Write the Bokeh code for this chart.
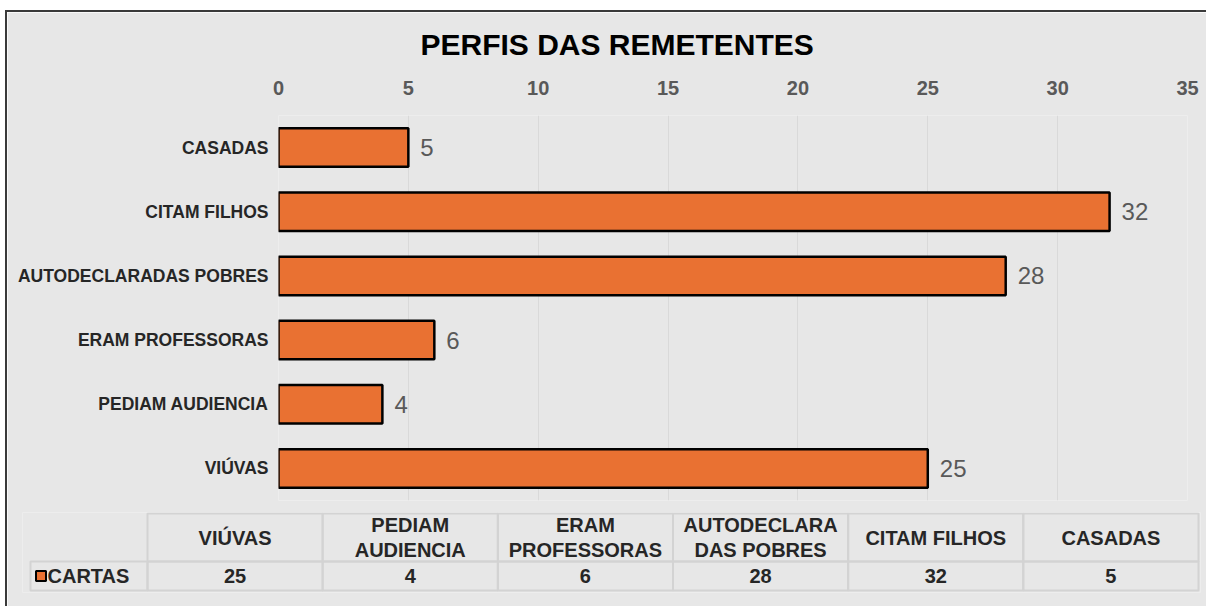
from bokeh.plotting import figure
from bokeh.models import Range1d, FactorRange, FixedTicker, ColumnDataSource
from bokeh.layouts import column
from bokeh.core.properties import value
from bokeh.embed import file_html
from bokeh.resources import INLINE

# ---- data ----
categories = ["VIÚVAS", "PEDIAM AUDIENCIA", "ERAM PROFESSORAS",
              "AUTODECLARADAS POBRES", "CITAM FILHOS", "CASADAS"]
cartas = [25, 4, 6, 28, 32, 5]
table_headers = ["VIÚVAS", "PEDIAM\nAUDIENCIA", "ERAM\nPROFESSORAS",
                 "AUTODECLARA\nDAS POBRES", "CITAM FILHOS", "CASADAS"]
x_ticks = [0, 5, 10, 15, 20, 25, 30, 35]
series_name = "CARTAS"
title_text = "PERFIS DAS REMETENTES"

# ---- style ----
FONT = "Liberation Sans"
BG = "#e7e7e7"
ORANGE = "#e97132"
DARK = "#262626"
GRAY_TXT = "#595959"
GRID = "#d9d9d9"
TABLE_LINE = "#d3d3d3"
FRAME = "2px solid #3a3a3a"
W = 1201

# ---- chart ----
src = ColumnDataSource(dict(cat=categories, val=cartas,
                            lbl=[str(v) for v in cartas]))

p1 = figure(width=W, height=497,
            y_range=FactorRange(*categories), x_range=Range1d(0, 35),
            x_axis_location="above",
            output_backend="svg", toolbar_location=None,
            min_border_left=271, min_border_right=W - 1180,
            min_border_top=103, min_border_bottom=9,
            background_fill_color=BG, border_fill_color=BG,
            outline_line_color=None)
p1.frame_align = False
p1.styles = {"border-top": FRAME, "border-left": FRAME,
             "margin-left": "5px", "margin-top": "10px"}

p1.title.text = title_text
p1.title.align = "left"
p1.title.offset = 142
p1.title.standoff = 13
p1.title.text_font = FONT
p1.title.text_font_size = "30px"
p1.title.text_font_style = "bold"
p1.title.text_color = "#000000"

p1.hbar(y="cat", left=0, right="val", height=0.6, source=src,
        fill_color=ORANGE, line_color="black", line_width=2.5)
p1.text(x="val", y="cat", text="lbl", source=src, x_offset=12,
        text_baseline="middle", text_align="left",
        text_font=value(FONT), text_font_size="24px", text_color=GRAY_TXT)

ticker = FixedTicker(ticks=x_ticks)
p1.xaxis.ticker = ticker
p1.xgrid.ticker = ticker
p1.xgrid.grid_line_color = GRID
p1.ygrid.grid_line_color = None
p1.xaxis.axis_line_color = None
p1.xaxis.major_tick_line_color = None
p1.xaxis.minor_tick_line_color = None
p1.xaxis.major_label_standoff = 15
p1.xaxis.major_label_text_font = FONT
p1.xaxis.major_label_text_font_size = "20px"
p1.xaxis.major_label_text_font_style = "bold"
p1.xaxis.major_label_text_color = GRAY_TXT
# blank spacer label to lift the title a little
p1.xaxis.axis_label = " "
p1.xaxis.axis_label_text_font_size = "7px"
p1.xaxis.axis_label_standoff = 0

p1.yaxis.axis_line_color = None
p1.yaxis.major_tick_line_color = None
p1.yaxis.minor_tick_line_color = None
p1.yaxis.major_label_standoff = 4
p1.yaxis.major_label_text_font = FONT
p1.yaxis.major_label_text_font_size = "17.5px"
p1.yaxis.major_label_text_font_style = "bold"
p1.yaxis.major_label_text_color = DARK

# ---- data table ----
COL_PX = 175.17
LEG_W = 125 / COL_PX      # width of the legend column in column units
LEG_CELL = 117 / COL_PX   # bordered legend cell
VAL_H = 29                # value row height (px units)
HEAD_H = 48               # header row height (px units)

p2 = figure(width=W, height=100,
            x_range=Range1d(-LEG_W, len(categories) + 2 / COL_PX),
            y_range=Range1d(-2, VAL_H + HEAD_H + 1),
            x_axis_location=None, y_axis_location=None,
            output_backend="svg", toolbar_location=None,
            min_border_left=15, min_border_right=W - 1193,
            min_border_top=6, min_border_bottom=14,
            background_fill_color=BG, border_fill_color=BG,
            outline_line_color=None)
p2.frame_align = False
p2.styles = {"border-left": FRAME, "margin-left": "5px", "margin-top": "-1px"}
p2.grid.visible = False

idx = list(range(len(categories)))
tsrc = ColumnDataSource(dict(
    xc=[i + 0.5 for i in idx],
    head=table_headers,
    val=[str(v) for v in cartas],
))

# header cells
p2.rect(x="xc", y=VAL_H + HEAD_H / 2, width=1, height=HEAD_H, source=tsrc,
        fill_color=None, line_color=TABLE_LINE, line_width=2)
# value cells
p2.rect(x="xc", y=VAL_H / 2, width=1, height=VAL_H, source=tsrc,
        fill_color=None, line_color=TABLE_LINE, line_width=2)
# legend cell
p2.rect(x=[-LEG_CELL / 2], y=[VAL_H / 2], width=LEG_CELL, height=VAL_H,
        fill_color=None, line_color=TABLE_LINE, line_width=2)

p2.text(x="xc", y=VAL_H + HEAD_H / 2, text="head", source=tsrc,
        text_align="center", text_baseline="middle",
        text_font=value(FONT), text_font_size="20px", text_font_style="bold",
        text_color=DARK, text_line_height=1.15)
p2.text(x="xc", y=VAL_H / 2, text="val", source=tsrc,
        text_align="center", text_baseline="middle",
        text_font=value(FONT), text_font_size="20px", text_font_style="bold",
        text_color=DARK)

# legend key + series name
p2.scatter(x=[-LEG_CELL + 0.06], y=[VAL_H / 2], marker="square", size=10,
           fill_color=ORANGE, line_color="black", line_width=2)
p2.text(x=[-LEG_CELL + 0.097], y=[VAL_H / 2], text=[series_name],
        text_align="left", text_baseline="middle",
        text_font=value(FONT), text_font_size="20px", text_font_style="bold",
        text_color=DARK)

layout = column(p1, p2, spacing=0)
open("out.html", "w").write(file_html(layout, INLINE))
